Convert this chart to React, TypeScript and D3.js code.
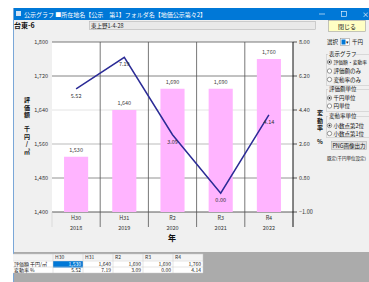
import React from "react";
import * as d3 from "d3";

const categories = ["H30", "H31", "R2", "R3", "R4"];
const years = ["2018", "2019", "2020", "2021", "2022"];
const prices = [1530, 1640, 1690, 1690, 1760];
const rates = [5.52, 7.19, 3.09, 0.0, 4.14];
const priceTicks = [1400, 1480, 1560, 1640, 1720, 1800];
const rateTicks = [-1, 0.8, 2.6, 4.4, 6.2, 8];
const gridColors = ["#333", "#777", "#aaa", "#ddd", "#666", "#555"];

const FONT = "'Noto Sans CJK JP', sans-serif";

const App: React.FC = () => {
  const W = 369;
  const H = 282;
  const plot = { left: 52, right: 293, top: 42, bottom: 212 };

  const x = d3
    .scaleBand<string>()
    .domain(categories)
    .range([plot.left, plot.right]);
  const bw = x.bandwidth();
  const yL = d3.scaleLinear().domain([1400, 1800]).range([plot.bottom, plot.top]);
  const yR = d3.scaleLinear().domain([-1, 8]).range([plot.bottom, plot.top]);
  const cx = (c: string) => (x(c) || 0) + bw / 2;

  const line = d3
    .line<number>()
    .x((_, i) => cx(categories[i]))
    .y((d) => yR(d));

  const fmtP = d3.format(",");
  const fmtR = d3.format(".2f");

  // table layout
  const tx0 = 13;
  const firstCol = 40;
  const colW = 30;
  const rowY = [254, 261, 267];
  const rowH = 6.5;

  // right-hand panel
  const px = 326;

  const radio = (y: number, label: string, on: boolean, fs = 5.5) => (
    <g key={label}>
      <circle cx={px + 3.5} cy={y} r={2.2} fill="#fff" stroke="#555" strokeWidth={0.6} />
      {on && <circle cx={px + 3.5} cy={y} r={1} fill="#222" />}
      <text x={px + 7.5} y={y + 2} fontSize={fs} fill="#111">{label}</text>
    </g>
  );

  const group = (y0: number, h: number, title: string) => (
    <g>
      <rect x={px + 0.5} y={y0 + 0.5} width={50} height={h} fill="none" stroke="#c8c8c8" strokeWidth={0.6} />
      <rect x={px + 2} y={y0 - 3} width={26} height={6} fill="#f0f0f0" />
      <text x={px + 3} y={y0 + 2} fontSize={5.5} fill="#111">{title}</text>
    </g>
  );

  // vertical axis titles, one glyph per row
  const vText = (chars: string[], xPos: number, y0: number, step: number) =>
    chars.map((ch, i) => (
      <text
        key={ch + xPos}
        x={xPos}
        y={y0 + i * step + 2.2}
        fontSize={6}
        fontWeight="bold"
        textAnchor="middle"
        fill="#111"
      >
        {ch}
      </text>
    ));

  return (
    <svg
      width={W}
      height={H}
      style={{ position: "absolute", left: 0, top: 0, fontFamily: FONT }}
    >
      <rect x={0} y={0} width={W} height={H} fill="#fff" />
      {/* window */}
      <rect x={13} y={8} width={W - 13} height={H - 8} fill="#f0f0f0" />
      <rect x={13} y={252} width={W - 13} height={30} fill="#ababab" />
      <line x1={13.5} x2={13.5} y1={8} y2={H} stroke="#7aa7d8" />
      <rect x={14} y={8} width={W - 14} height={12} fill="#0078d7" />
      <rect x={16} y={11} width={5} height={5} fill="#cfe3f7" />
      <text x={24} y={16.5} fontSize={6} fill="#fff">
        公示グラフ ■所在地名【公示　第1】フォルダ名【地価公示第々2】
      </text>
      <line x1={319} x2={325} y1={14} y2={14} stroke="#fff" strokeWidth={0.6} />
      <rect x={341.5} y={11.5} width={5} height={5} fill="none" stroke="#fff" strokeWidth={0.6} />
      <text x={362} y={16.5} fontSize={7} fill="#fff">×</text>

      {/* header row */}
      <text x={14} y={28} fontSize={7} fontWeight="bold" fill="#111">台東-6</text>
      <rect x={89.5} y={21.5} width={226} height={8} fill="#e9e9e9" stroke="#b5b5b5" strokeWidth={0.6} />
      <text x={91} y={28} fontSize={5.5} fill="#222">東上野1-4-28</text>
      <rect x={328.5} y={20.5} width={37} height={11} fill="#ffffc4" stroke="#a0a0a0" strokeWidth={0.6} />
      <text x={347} y={28.5} fontSize={6} textAnchor="middle" fill="#111">閉じる</text>

      {/* plot background */}
      <rect x={plot.left} y={plot.top} width={plot.right - plot.left} height={plot.bottom - plot.top} fill="#fff" />

      {/* horizontal gridlines */}
      {priceTicks.map((t, i) => (
        <line
          key={"g" + t}
          x1={plot.left}
          x2={plot.right}
          y1={yL(t)}
          y2={yL(t)}
          stroke={gridColors[i]}
          strokeWidth={0.8}
        />
      ))}

      {/* bars */}
      {prices.map((p, i) => (
        <g key={"b" + i}>
          <rect
            x={cx(categories[i]) - bw / 4}
            y={yL(p)}
            width={bw / 2}
            height={plot.bottom - yL(p)}
            fill="#ffb4ff"
          />
          <text
            x={cx(categories[i])}
            y={yL(p) - 5}
            fontSize={5.5}
            textAnchor="middle"
            fill="#444"
          >
            {fmtP(p)}
          </text>
        </g>
      ))}

      {/* vertical gridlines */}
      {categories.slice(1).map((c) => (
        <line
          key={"v" + c}
          x1={x(c) || 0}
          x2={x(c) || 0}
          y1={plot.top}
          y2={227}
          stroke="#555"
          strokeWidth={0.8}
        />
      ))}
      <line x1={plot.left} x2={plot.left} y1={plot.bottom} y2={227} stroke="#ccc" strokeWidth={0.6} />
      <line x1={plot.right} x2={plot.right} y1={plot.top} y2={227} stroke="#111" strokeWidth={1} />

      {/* rate line */}
      <path d={line(rates) || ""} fill="none" stroke="#2b2b96" strokeWidth={1.5} />
      {rates.map((r, i) => (
        <text
          key={"r" + i}
          x={cx(categories[i])}
          y={yR(r) + 9}
          fontSize={5.5}
          textAnchor="middle"
          fill="#333"
        >
          {fmtR(r)}
        </text>
      ))}

      {/* left axis labels */}
      {priceTicks.map((t) => (
        <text key={"l" + t} x={48} y={yL(t) + 2} fontSize={5.5} textAnchor="end" fill="#333">
          {fmtP(t)}
        </text>
      ))}
      {/* right axis */}
      {rateTicks.map((t) => (
        <g key={"rt" + t}>
          <line x1={plot.right} x2={plot.right + 4} y1={yR(t)} y2={yR(t)} stroke="#111" strokeWidth={0.7} />
          <text x={299} y={yR(t) + 2} fontSize={5.5} fill="#333">
            {fmtR(t)}
          </text>
        </g>
      ))}

      {/* category labels */}
      {categories.map((c, i) => (
        <g key={"c" + c}>
          <text x={cx(c)} y={219.5} fontSize={5.5} textAnchor="middle" fill="#333">{c}</text>
          <text x={cx(c)} y={229.5} fontSize={5.5} textAnchor="middle" fill="#333">{years[i]}</text>
        </g>
      ))}
      <text x={172} y={241} fontSize={8} fontWeight="bold" textAnchor="middle" fill="#111">年</text>

      {/* axis titles */}
      {vText(["評", "価", "額"], 27, 100, 7.5)}
      {vText(["千", "円", "/", "㎡"], 27, 129, 7.5)}
      {vText(["変", "動", "率"], 320, 113, 7.5)}
      {vText(["%"], 320, 142, 7.5)}

      {/* right panel */}
      <text x={px + 1} y={44} fontSize={5.5} fill="#111">選択</text>
      <rect x={px + 14.5} y={38.5} width={9} height={7} fill="#fff" stroke="#888" strokeWidth={0.5} />
      <rect x={px + 15.5} y={39.5} width={4} height={5} fill="#0078d7" />
      <text x={px + 21.5} y={44} fontSize={4.5} textAnchor="middle" fill="#222">▾</text>
      <text x={px + 26} y={44} fontSize={5.5} fill="#111">千円</text>

      {group(54, 31, "表示グラフ")}
      {radio(62, "評価額・変動率", true, 4.8)}
      {radio(71, "評価額のみ", false)}
      {radio(79.5, "変動率のみ", false)}

      {group(89, 22, "評価額単位")}
      {radio(98, "千円単位", true)}
      {radio(106, "円単位", false)}

      {group(116, 21, "変動率単位")}
      {radio(125.5, "小数点第2位", true)}
      {radio(133.5, "小数点第1位", false)}

      <rect x={331.5} y={141.5} width={35} height={8} fill="#e1e1e1" stroke="#adadad" strokeWidth={0.6} />
      <text x={349} y={147.5} fontSize={5.5} textAnchor="middle" fill="#111">PNG画像出力</text>
      <text x={px + 1} y={160} fontSize={4.5} fill="#111">既定(千円単位設定)</text>

      {/* data table */}
      <rect x={tx0} y={rowY[0]} width={firstCol + colW * 5} height={19} fill="#fff" />
      <rect x={tx0} y={rowY[0]} width={firstCol + colW * 5} height={rowH} fill="#f4f4f4" />
      {categories.map((c, i) => (
        <text key={"th" + c} x={tx0 + firstCol + colW * i + 2} y={rowY[0] + 5} fontSize={5} fill="#333">{c}</text>
      ))}
      <rect
        x={tx0 + firstCol}
        y={rowY[1]}
        width={colW}
        height={rowH}
        fill="#0078d7"
      />
      <text x={tx0 + 1} y={rowY[1] + 5} fontSize={5} fill="#111">評価額 千円/㎡</text>
      <text x={tx0 + 1} y={rowY[2] + 5} fontSize={5} fill="#111">変動率 %</text>
      {prices.map((p, i) => (
        <text
          key={"tp" + i}
          x={tx0 + firstCol + colW * (i + 1) - 2}
          y={rowY[1] + 5}
          fontSize={5}
          textAnchor="end"
          fill={i === 0 ? "#fff" : "#222"}
        >
          {fmtP(p)}
        </text>
      ))}
      {rates.map((r, i) => (
        <text
          key={"tr" + i}
          x={tx0 + firstCol + colW * (i + 1) - 2}
          y={rowY[2] + 5}
          fontSize={5}
          textAnchor="end"
          fill="#222"
        >
          {fmtR(r)}
        </text>
      ))}
      {[0, 1, 2, 3, 4, 5].map((k) => (
        <line
          key={"tc" + k}
          x1={tx0 + firstCol + colW * k}
          x2={tx0 + firstCol + colW * k}
          y1={rowY[0]}
          y2={rowY[0] + 19}
          stroke="#c8c8c8"
          strokeWidth={0.5}
        />
      ))}
      {[0, 1, 2, 3].map((k) => (
        <line
          key={"trw" + k}
          x1={tx0}
          x2={tx0 + firstCol + colW * 5}
          y1={k === 3 ? rowY[0] + 19 : rowY[k]}
          y2={k === 3 ? rowY[0] + 19 : rowY[k]}
          stroke="#c8c8c8"
          strokeWidth={0.5}
        />
      ))}
    </svg>
  );
};

export default App;
